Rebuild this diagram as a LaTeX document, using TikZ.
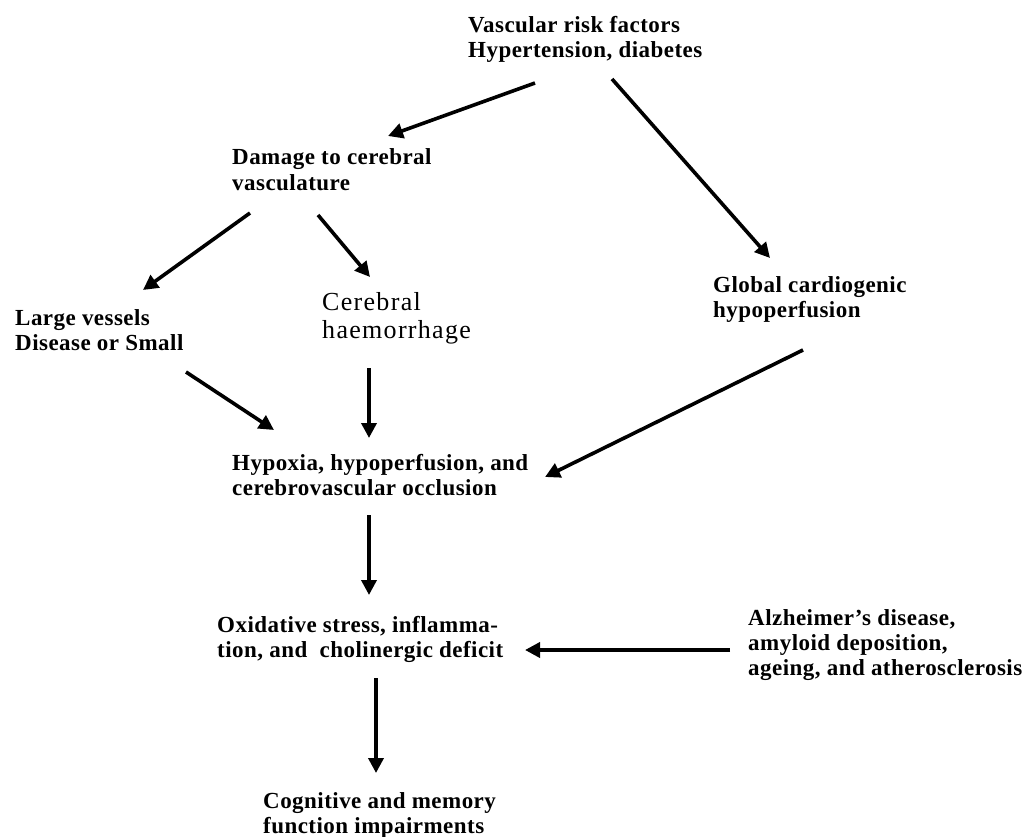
\documentclass[tikz,border=0pt]{standalone}
\usepackage{fontspec}
\setmainfont[LetterSpace=2]{Liberation Serif}
\newfontfamily\haemfont[LetterSpace=5]{Liberation Serif}
\usetikzlibrary{arrows.meta}
\tikzset{
  lbl/.style={anchor=base west, inner sep=0pt, font=\bfseries\fontsize{23}{25}\selectfont},
  lblreg/.style={anchor=base west, inner sep=0pt, font=\haemfont\fontsize{26}{28}\selectfont},
  arr/.style={line width=3.6pt, -{Triangle[length=15pt,width=15pt]}}
}
\newcommand{\lines}[1]{\begin{tabular}[t]{@{}l@{}}#1\end{tabular}}
\begin{document}
\begin{tikzpicture}[x=1pt,y=-1pt]
\useasboundingbox (0,0) rectangle (1027,837);
\fill[white] (0,0) rectangle (1027,837);
% nodes
\node[lbl] (risk) at (468,33) {\lines{Vascular risk factors\\Hypertension, diabetes}};
\node[lbl] (damage) at (232,165) {\lines{Damage to cerebral\\vasculature}};
\node[lbl] (large) at (15,325) {\lines{Large vessels\\Disease or Small}};
\node[lblreg] (haem) at (322,310) {\lines{Cerebral\\haemorrhage}};
\node[lbl] (global) at (713,292) {\lines{Global cardiogenic\\hypoperfusion}};
\node[lbl] (hypoxia) at (232,470) {\lines{Hypoxia, hypoperfusion, and\\cerebrovascular occlusion}};
\node[lbl] (oxid) at (217,632) {\lines{Oxidative stress, inflamma-\\tion, and~ cholinergic deficit}};
\node[lbl] (alz) at (748,625) {\lines{Alzheimer's disease,\\amyloid deposition,\\ageing, and atherosclerosis}};
\node[lbl] (cog) at (263,808) {\lines{Cognitive and memory\\function impairments}};
% connector end points
\coordinate (r1) at (535,83);   \coordinate (d1) at (388,136);
\coordinate (r2) at (612,79);   \coordinate (g1) at (770,258);
\coordinate (d2) at (250,213);  \coordinate (l1) at (143,290);
\coordinate (d3) at (318,215);  \coordinate (h1) at (370,277);
\coordinate (g2) at (803,350);  \coordinate (x1) at (545,477);
\coordinate (l2) at (186,372);  \coordinate (x2) at (274,430);
\coordinate (h2) at (369,368);  \coordinate (x3) at (369,438);
\coordinate (x4) at (369,515);  \coordinate (o1) at (369,595);
\coordinate (a1) at (730,650);  \coordinate (o2) at (525,650);
\coordinate (o3) at (376,678);  \coordinate (c1) at (376,773);
% connectors
\draw[arr] (r1) -- (d1);
\draw[arr] (r2) -- (g1);
\draw[arr] (d2) -- (l1);
\draw[arr] (d3) -- (h1);
\draw[arr] (g2) -- (x1);
\draw[arr] (l2) -- (x2);
\draw[arr] (h2) -- (x3);
\draw[arr] (x4) -- (o1);
\draw[arr] (a1) -- (o2);
\draw[arr] (o3) -- (c1);
\end{tikzpicture}
\end{document}
